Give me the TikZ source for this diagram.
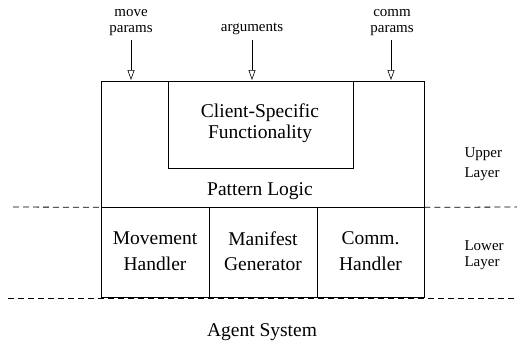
\documentclass[tikz,border=0pt]{standalone}
\usepackage{fontspec}
\setmainfont{Liberation Serif}
\usetikzlibrary{arrows.meta}
\begin{document}
\begin{tikzpicture}[x=1pt,y=-1pt,
  box/.style={draw, line width=0.7pt, inner sep=0pt},
  big/.style={font=\fontsize{19.5}{20.5}\selectfont, align=center},
  bigwide/.style={font=\fontsize{19.5}{25.5}\selectfont, align=center},
  small/.style={font=\fontsize{15}{16}\selectfont, align=center},
  side/.style={font=\fontsize{15}{20}\selectfont, align=left, anchor=west},
  sidetight/.style={font=\fontsize{15}{16}\selectfont, align=left, anchor=west},
  layerline/.style={dash pattern=on 6pt off 4pt, line width=0.8pt},
  inarrow/.style={-{Triangle[open,length=10pt,width=7pt]}, line width=0.6pt}]
\useasboundingbox (0,0) rectangle (517,343);
% upper outer box
\node[box, minimum width=323pt, minimum height=126pt] (upper) at (262.5,144) {};
\node[box, minimum width=185pt, minimum height=87pt] (client) at (260.5,124.5) {};
\node[big] (clienttxt) at (260,123) {Client-Specific\\Functionality};
\node[big] (pattern) at (260,191) {Pattern Logic};
% lower row
\node[box, minimum width=108pt, minimum height=90pt] (move) at (155,252) {};
\node[box, minimum width=108pt, minimum height=90pt] (manifest) at (263,252) {};
\node[box, minimum width=107pt, minimum height=90pt] (comm) at (370.5,252) {};
\node[bigwide] at (155,251) {Movement\\Handler};
\node[bigwide] at (263,251) {Manifest\\Generator};
\node[bigwide] at (370.5,251) {Comm.\\Handler};
% dashed layer lines
\coordinate (l1a) at (13,207);
\coordinate (l1b) at (517,207);
\coordinate (l2a) at (8,298);
\coordinate (l2b) at (517,298);
\draw[layerline] (l1a) -- (upper.south west);
\draw[layerline] (upper.south east) -- (l1b);
\draw[layerline] (l2a) -- (l2b);
\node[big] (agent) at (262,332) {Agent System};
% side labels
\node[side] (upperlbl) at (461,164) {Upper\\Layer};
\node[sidetight] (lowerlbl) at (461,255) {Lower\\Layer};
% inputs
\node[small] (mp) at (131,23) {move\\params};
\node[small] (arg) at (252,29) {arguments};
\node[small] (cp) at (392,23) {comm\\params};
\coordinate (mpt) at (131,80);
\coordinate (argt) at (252,80);
\coordinate (cpt) at (391,80);
\draw[inarrow] (131,40) -- (mpt);
\draw[inarrow] (252,40) -- (argt);
\draw[inarrow] (391,40) -- (cpt);
\end{tikzpicture}
\end{document}
